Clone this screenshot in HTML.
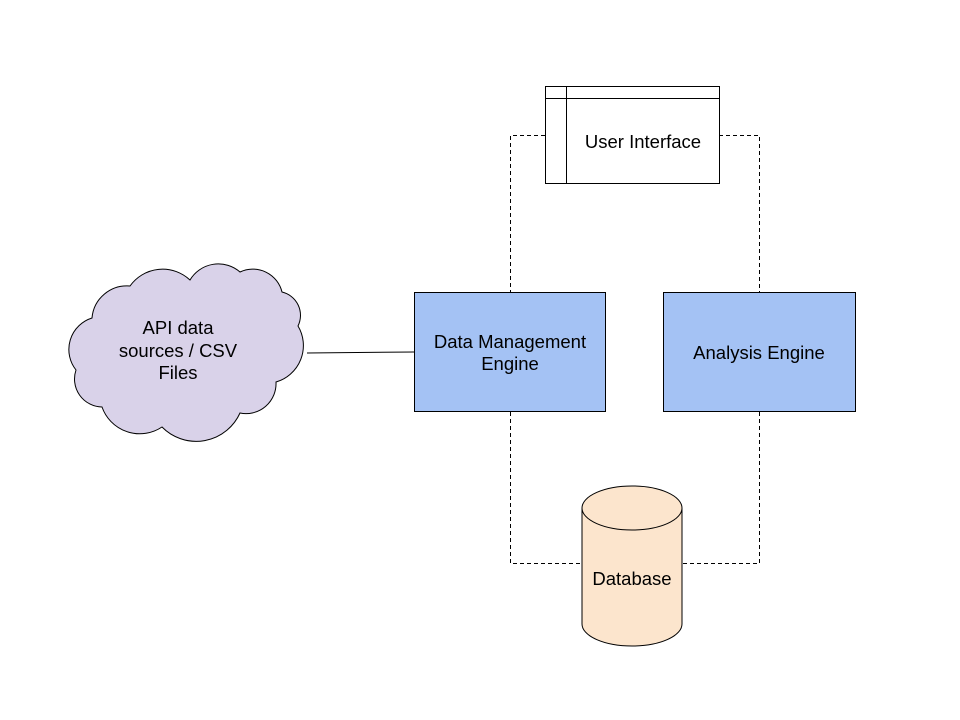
<!DOCTYPE html>
<html><head><meta charset="utf-8"><style>body{margin:0;background:#fff}svg{display:block}text{font-family:"Liberation Sans",sans-serif;font-size:18.5px;fill:#000}</style></head>
<body>
<svg width="960" height="720" xmlns="http://www.w3.org/2000/svg">
<g fill="none" stroke="#000" stroke-width="1" stroke-dasharray="4,3">
<polyline points="545,135.5 510.5,135.5 510.5,292"/>
<polyline points="719,135.5 759.5,135.5 759.5,292"/>
<polyline points="510.5,412 510.5,563.5 582,563.5"/>
<polyline points="759.5,412 759.5,563.5 682,563.5"/>
</g>
<line x1="307" y1="353" x2="414" y2="352" stroke="#000"/>
<path d="M92,318 A35,35 0 0 1 130,286 A40,40 0 0 1 190,280 A33,33 0 0 1 240,272 A30,30 0 0 1 282,292 A24,24 0 0 1 298,326 A38,38 0 0 1 276,382 A30,30 0 0 1 240,413 A48,48 0 0 1 162,427 A40,40 0 0 1 102,407 A28,28 0 0 1 76,370 A33,33 0 0 1 92,318 Z" fill="#d9d2e9" stroke="#000"/>
<text x="178" y="334" text-anchor="middle">API data</text>
<text x="178" y="357" text-anchor="middle">sources / CSV</text>
<text x="178" y="379" text-anchor="middle">Files</text>
<rect x="545.5" y="86.5" width="174" height="97" fill="#fff" stroke="#000"/>
<line x1="545" y1="98.5" x2="719" y2="98.5" stroke="#000"/>
<line x1="566.5" y1="86" x2="566.5" y2="183" stroke="#000"/>
<text x="643" y="148" text-anchor="middle">User Interface</text>
<rect x="414.5" y="292.5" width="191" height="119" fill="#a4c2f4" stroke="#000"/>
<text x="510" y="348" text-anchor="middle">Data Management</text>
<text x="510" y="370" text-anchor="middle">Engine</text>
<rect x="663.5" y="292.5" width="192" height="119" fill="#a4c2f4" stroke="#000"/>
<text x="759" y="359" text-anchor="middle">Analysis Engine</text>
<path d="M582,508 A50,22 0 0 1 682,508 L682,624 A50,22 0 0 1 582,624 Z" fill="#fce5cd" stroke="#000"/>
<path d="M582,508 A50,22 0 0 0 682,508" fill="none" stroke="#000"/>
<text x="632" y="585" text-anchor="middle">Database</text>
</svg>
</body></html>
